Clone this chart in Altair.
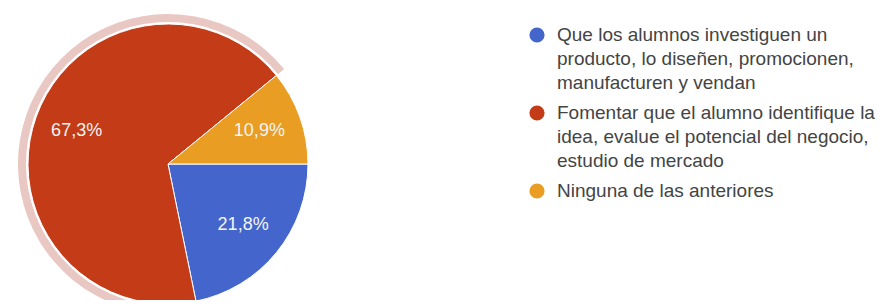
import math
import altair as alt
import pandas as pd

categories = [
    "Que los alumnos investiguen un producto, lo diseñen, promocionen, manufacturen y vendan",
    "Fomentar que el alumno identifique la idea, evalue el potencial del negocio, estudio de mercado",
    "Ninguna de las anteriores",
]
values = [21.8, 67.3, 10.9]
labels = ["21,8%", "67,3%", "10,9%"]
colors = ["#4466cc", "#c33b17", "#e99d22"]
legend_lines = [
    ["Que los alumnos investiguen un", "producto, lo diseñen, promocionen,", "manufacturen y vendan"],
    ["Fomentar que el alumno identifique la", "idea, evalue el potencial del negocio,", "estudio de mercado"],
    ["Ninguna de las anteriores"],
]
highlighted = categories[1]

pie_df = pd.DataFrame({
    "category": categories,
    "value": values,
    "label": labels,
    "order": list(range(len(categories))),
})

rows = []
pos = 0.0
for cat, lines in zip(categories, legend_lines):
    for k, line in enumerate(lines):
        rows.append({"category": cat, "line": line, "pos": pos + k, "first": k == 0})
    pos += len(lines) + 0.25
leg_df = pd.DataFrame(rows)

CX, CY, R = 160, 156, 140

theta = alt.Theta("value:Q", stack=True,
                  scale=alt.Scale(range=[math.pi / 2, math.pi / 2 + 2 * math.pi]))
order = alt.Order("order:Q")
color = alt.Color("category:N", scale=alt.Scale(domain=categories, range=colors), legend=None)

base = alt.Chart(pie_df)

halo = base.mark_arc(x=CX, y=CY, radius=R + 10, radius2=R + 2, color="#e9c7c2").encode(
    theta=theta, order=order,
    opacity=alt.condition(alt.datum.category == highlighted, alt.value(1), alt.value(0)),
)

pie = base.mark_arc(x=CX, y=CY, radius=R, stroke="white", strokeWidth=1).encode(
    theta=theta, order=order, color=color,
)

pie_text = base.mark_text(x=CX, y=CY, radius=97, fontSize=18, font="Liberation Sans",
                          color="#f4f4f4").encode(
    theta=theta, order=order, text="label:N",
)

yscale = alt.Scale(domain=[0, 1], range=[27, 51], nice=False, zero=False)

leg_base = alt.Chart(leg_df)
leg_sym = leg_base.transform_filter(alt.datum.first).mark_point(
    shape="circle", filled=True, opacity=1, size=230, x=529).encode(
    y=alt.Y("pos:Q", scale=yscale, axis=None),
    color=color,
)
leg_text = leg_base.mark_text(x=549, align="left", baseline="middle", fontSize=19,
                              font="Liberation Sans", color="#444444").encode(
    y=alt.Y("pos:Q", scale=yscale, axis=None),
    text="line:N",
)

chart = alt.layer(halo, pie, pie_text, leg_sym, leg_text).properties(
    width=867, height=292, padding=0,
    autosize=alt.AutoSizeParams(type="none"),
    background="white",
).configure_view(stroke=None)

chart.save("out.html", embed_options={"renderer": "svg", "actions": False})
